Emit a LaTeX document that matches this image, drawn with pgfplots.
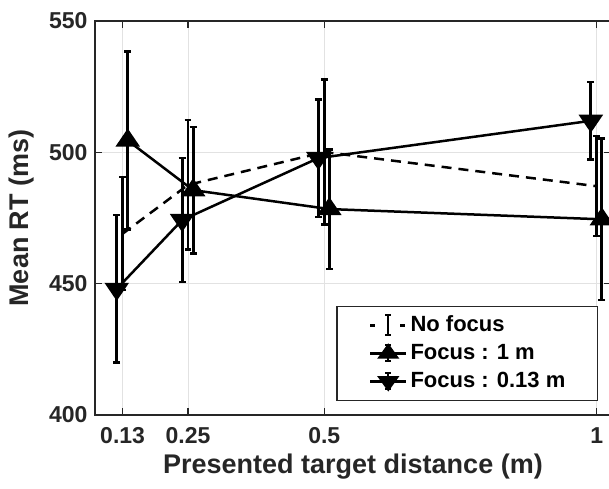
\documentclass[border=0pt]{standalone}
\usepackage{pgfplots}
\pgfplotsset{compat=1.18}
\usepackage{fontspec}
\setmainfont{Liberation Sans}
\definecolor{axgray}{RGB}{38,38,38}
\definecolor{gridgray}{RGB}{226,226,226}
\pgfplotsset{
  ebar/.style={error bars/.cd, y dir=both, y explicit,
    error bar style={solid, line width=2.8pt, black},
    error mark options={solid, rotate=90, mark size=3.4pt, line width=2.2pt, black}},
}
\begin{document}
\begin{tikzpicture}
\begin{axis}[name=ax, scale only axis, width=516pt, height=394pt,
  xmin=0.0793, xmax=1.0262, ymin=400, ymax=550,
  xtick={0.13,0.25,0.5,1}, xticklabels={0.13,0.25,0.5,1},
  ytick={400,450,500,550},
  grid=major, major grid style={gridgray, line width=1pt},
  tick align=inside, major tick length=7pt,
  every tick/.style={axgray, line width=1.2pt},
  axis line style={axgray, line width=1.3pt},
  /pgf/number format/assume math mode=true,
  ticklabel style={font=\bfseries\fontsize{23}{25}\selectfont, text=axgray},
  xticklabel style={yshift=-9pt}, yticklabel style={xshift=-4pt},
  label style={font=\bfseries\fontsize{27}{30}\selectfont, text=axgray},
  xlabel={Presented target distance (m)}, ylabel={Mean RT (ms)},
  xlabel style={at={(axis description cs:0.5,-0.132)}, anchor=center},
  ylabel style={at={(axis description cs:-0.1417,0.5)}, anchor=center},
  legend style={at={(axis description cs:0.9748,0.0355)}, anchor=south east,
    draw=axgray, line width=1.2pt, font=\bfseries\fontsize{22}{24}\selectfont,
    inner xsep=32pt, inner ysep=8pt, row sep=6pt,
    nodes={inner sep=0pt, text height=17pt, text depth=5pt},
    cells={anchor=west}},
]
\addplot[black, line width=2.5pt, dash pattern=on 10pt off 7pt,
  legend image code/.code={
    \draw[black, line width=2.5pt, solid] (0pt,0pt)--(5pt,0pt) (30pt,0pt)--(35pt,0pt);
    \draw[black, line width=2pt, solid] (18pt,-10pt)--(18pt,10pt) (15pt,10pt)--(21pt,10pt) (15pt,-10pt)--(21pt,-10pt);
    \path (39pt,0pt);}, ebar]
  coordinates {(0.13,469) +- (0,21.5) (0.25,487.6) +- (0,24.6) (0.5,500.1) +- (0,27.6) (1,487.1) +- (0,19.1)};
\addlegendentry{No focus}
\addplot[black, line width=2.5pt, mark=triangle*, mark size=11.5pt, mark options={solid, yscale=0.85},
  legend image code/.code={
    \draw[black, line width=2.5pt, solid] (0pt,0pt)--(36pt,0pt);
    \draw[black, line width=2pt, solid] (18pt,-8pt)--(18pt,8pt) (15pt,8pt)--(21pt,8pt) (15pt,-8pt)--(21pt,-8pt);
    \draw[black, mark=triangle*, mark size=10pt, mark options={solid, yscale=0.8, fill=black}] plot coordinates {(18pt,0pt)};
    \path (39pt,0pt);}, ebar]
  coordinates {(0.1394,504.5) +- (0,33.9) (0.2594,485.6) +- (0,24.1) (0.5094,478.4) +- (0,22.7) (1.0094,474.5) +- (0,30.8)};
\addlegendentry{Focus : 1 m}
\addplot[black, line width=2.5pt, mark=triangle*, mark size=11.5pt, mark options={solid, rotate=180, yscale=0.85},
  legend image code/.code={
    \draw[black, line width=2.5pt, solid] (0pt,0pt)--(36pt,0pt);
    \draw[black, line width=2pt, solid] (18pt,-8pt)--(18pt,8pt) (15pt,8pt)--(21pt,8pt) (15pt,-8pt)--(21pt,-8pt);
    \draw[black, mark=triangle*, mark size=10pt, mark options={solid, rotate=180, yscale=0.8, fill=black}] plot coordinates {(18pt,0pt)};
    \path (39pt,0pt);}, ebar]
  coordinates {(0.1192,448) +- (0,28) (0.2392,474.2) +- (0,23.5) (0.4892,497.8) +- (0,22.3) (0.9892,512) +- (0,14.7)};
\addlegendentry{Focus : 0.13 m\hspace{9pt}}
\end{axis}
\pgfresetboundingbox
\path[use as bounding box] ([shift={(-95pt,-74pt)}]ax.south west) rectangle ([shift={(-2pt,21pt)}]ax.north east);
\end{tikzpicture}
\end{document}
